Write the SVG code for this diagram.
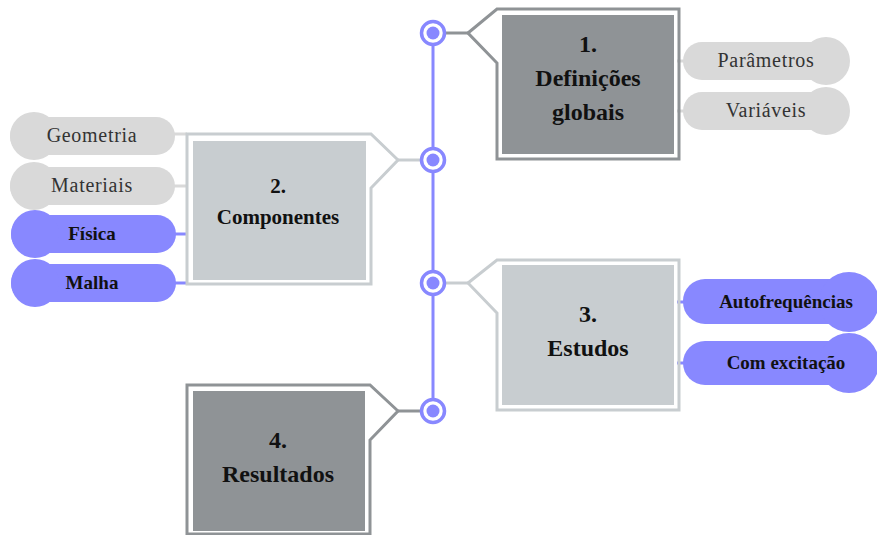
<svg xmlns="http://www.w3.org/2000/svg" width="877" height="535" viewBox="0 0 877 535">
<style>
.bg{fill:#ffffff}
.frameD{fill:none;stroke:#8f9396;stroke-width:3}
.frameL{fill:none;stroke:#c8cdd0;stroke-width:3}
.fillD{fill:#8f9396}
.fillL{fill:#c8cdd0}
.lnD{stroke:#8f9396;stroke-width:3;fill:none}
.lnL{stroke:#c8cdd0;stroke-width:3;fill:none}
.lnG{stroke:#d9d9d9;stroke-width:3;fill:none}
.lnB{stroke:#8888ff;stroke-width:3;fill:none}
.pillG{fill:#d9d9d9}
.pillB{fill:#8888ff}
.ring{fill:#ffffff;stroke:#8888ff;stroke-width:3.5}
.dot{fill:#8888ff}
.title{font-family:"Liberation Serif","Times New Roman",serif;font-weight:bold;font-size:24px;fill:#111;text-anchor:middle}
.title2{font-family:"Liberation Serif","Times New Roman",serif;font-weight:bold;font-size:21px;fill:#111;text-anchor:middle}
.tG{font-family:"Liberation Serif","Times New Roman",serif;font-size:20px;letter-spacing:0.7px;fill:#333;text-anchor:middle}
.tB{font-family:"Liberation Serif","Times New Roman",serif;font-weight:bold;font-size:19px;fill:#111;text-anchor:middle}
</style>
<rect class="bg" x="0" y="0" width="877" height="535"/>

<g id="connectors">
  <line class="lnB" x1="433" y1="33" x2="433" y2="411"/>
  <line class="lnD" x1="446" y1="33" x2="468" y2="33"/>
  <line class="lnL" x1="398" y1="160" x2="420" y2="160"/>
  <line class="lnL" x1="446" y1="283" x2="468" y2="283"/>
  <line class="lnD" x1="398" y1="411" x2="420" y2="411"/>
  <line class="lnG" x1="677" y1="61" x2="686" y2="61"/>
  <line class="lnG" x1="677" y1="111" x2="686" y2="111"/>
  <line class="lnG" x1="172" y1="134" x2="187" y2="134"/>
  <line class="lnG" x1="172" y1="186" x2="187" y2="186"/>
  <line class="lnB" x1="172" y1="234" x2="187" y2="234"/>
  <line class="lnB" x1="172" y1="283" x2="187" y2="283"/>
  <line class="lnB" x1="677" y1="302" x2="686" y2="302"/>
  <line class="lnB" x1="677" y1="363" x2="686" y2="363"/>
</g>

<g id="hub-points">
  <circle class="ring" cx="433" cy="33" r="11.5"/><circle class="dot" cx="433" cy="33" r="6.5"/>
  <circle class="ring" cx="433" cy="160" r="11.5"/><circle class="dot" cx="433" cy="160" r="6.5"/>
  <circle class="ring" cx="433" cy="283" r="11.5"/><circle class="dot" cx="433" cy="283" r="6.5"/>
  <circle class="ring" cx="433" cy="411" r="11.5"/><circle class="dot" cx="433" cy="411" r="6.5"/>
</g>

<g id="node1">
  <path class="frameD" d="M468,33 L497,9 L679,9 L679,159 L497,159 L497,63 Z"/>
  <rect class="fillD" x="502" y="15" width="172" height="139"/>
  <text class="title" x="588" y="52">1.</text>
  <text class="title" x="588" y="86">Definições</text>
  <text class="title" x="588" y="120">globais</text>
</g>

<g id="node2">
  <path class="frameL" d="M398,160 L371,134 L187,134 L187,284 L371,284 L371,188 Z"/>
  <rect class="fillL" x="193" y="141" width="173" height="139"/>
  <text class="title2" x="278" y="193">2.</text>
  <text class="title2" x="278" y="224">Componentes</text>
</g>

<g id="node3">
  <path class="frameL" d="M468,283 L497,260 L679,260 L679,410 L497,410 L497,313 Z"/>
  <rect class="fillL" x="502" y="265" width="172" height="140"/>
  <text class="title" x="588" y="322">3.</text>
  <text class="title" x="588" y="356">Estudos</text>
</g>

<g id="node4">
  <path class="frameD" d="M398,411 L370,385 L187,385 L187,534 L370,534 L370,440 Z"/>
  <rect class="fillD" x="193" y="391" width="172" height="140"/>
  <text class="title" x="278" y="448">4.</text>
  <text class="title" x="278" y="482">Resultados</text>
</g>

<g id="pill-parametros">
  <rect class="pillG" x="683" y="42" width="162" height="38" rx="19"/>
  <circle class="pillG" cx="826" cy="61" r="24"/>
  <text class="tG" x="766" y="67">Parâmetros</text>
</g>
<g id="pill-variaveis">
  <rect class="pillG" x="683" y="92" width="162" height="38" rx="19"/>
  <circle class="pillG" cx="826" cy="111" r="24"/>
  <text class="tG" x="766" y="117">Variáveis</text>
</g>

<g id="pill-geometria">
  <rect class="pillG" x="10" y="117" width="165" height="38" rx="19"/>
  <circle class="pillG" cx="34" cy="136" r="24"/>
  <text class="tG" x="92" y="142">Geometria</text>
</g>
<g id="pill-materiais">
  <rect class="pillG" x="10" y="167" width="165" height="38" rx="19"/>
  <circle class="pillG" cx="34" cy="186" r="24"/>
  <text class="tG" x="92" y="192">Materiais</text>
</g>
<g id="pill-fisica">
  <rect class="pillB" x="11" y="215" width="165" height="38" rx="19"/>
  <circle class="pillB" cx="35" cy="234" r="24"/>
  <text class="tB" x="92" y="240">Física</text>
</g>
<g id="pill-malha">
  <rect class="pillB" x="11" y="264" width="165" height="38" rx="19"/>
  <circle class="pillB" cx="35" cy="283" r="24"/>
  <text class="tB" x="92" y="289">Malha</text>
</g>

<g id="pill-autofrequencias">
  <rect class="pillB" x="683" y="279" width="190" height="45" rx="22"/>
  <circle class="pillB" cx="849" cy="302" r="30"/>
  <text class="tB" x="786" y="308">Autofrequências</text>
</g>
<g id="pill-excitacao">
  <rect class="pillB" x="683" y="341" width="190" height="44" rx="22"/>
  <circle class="pillB" cx="849" cy="363" r="30"/>
  <text class="tB" x="786" y="369">Com excitação</text>
</g>
</svg>
